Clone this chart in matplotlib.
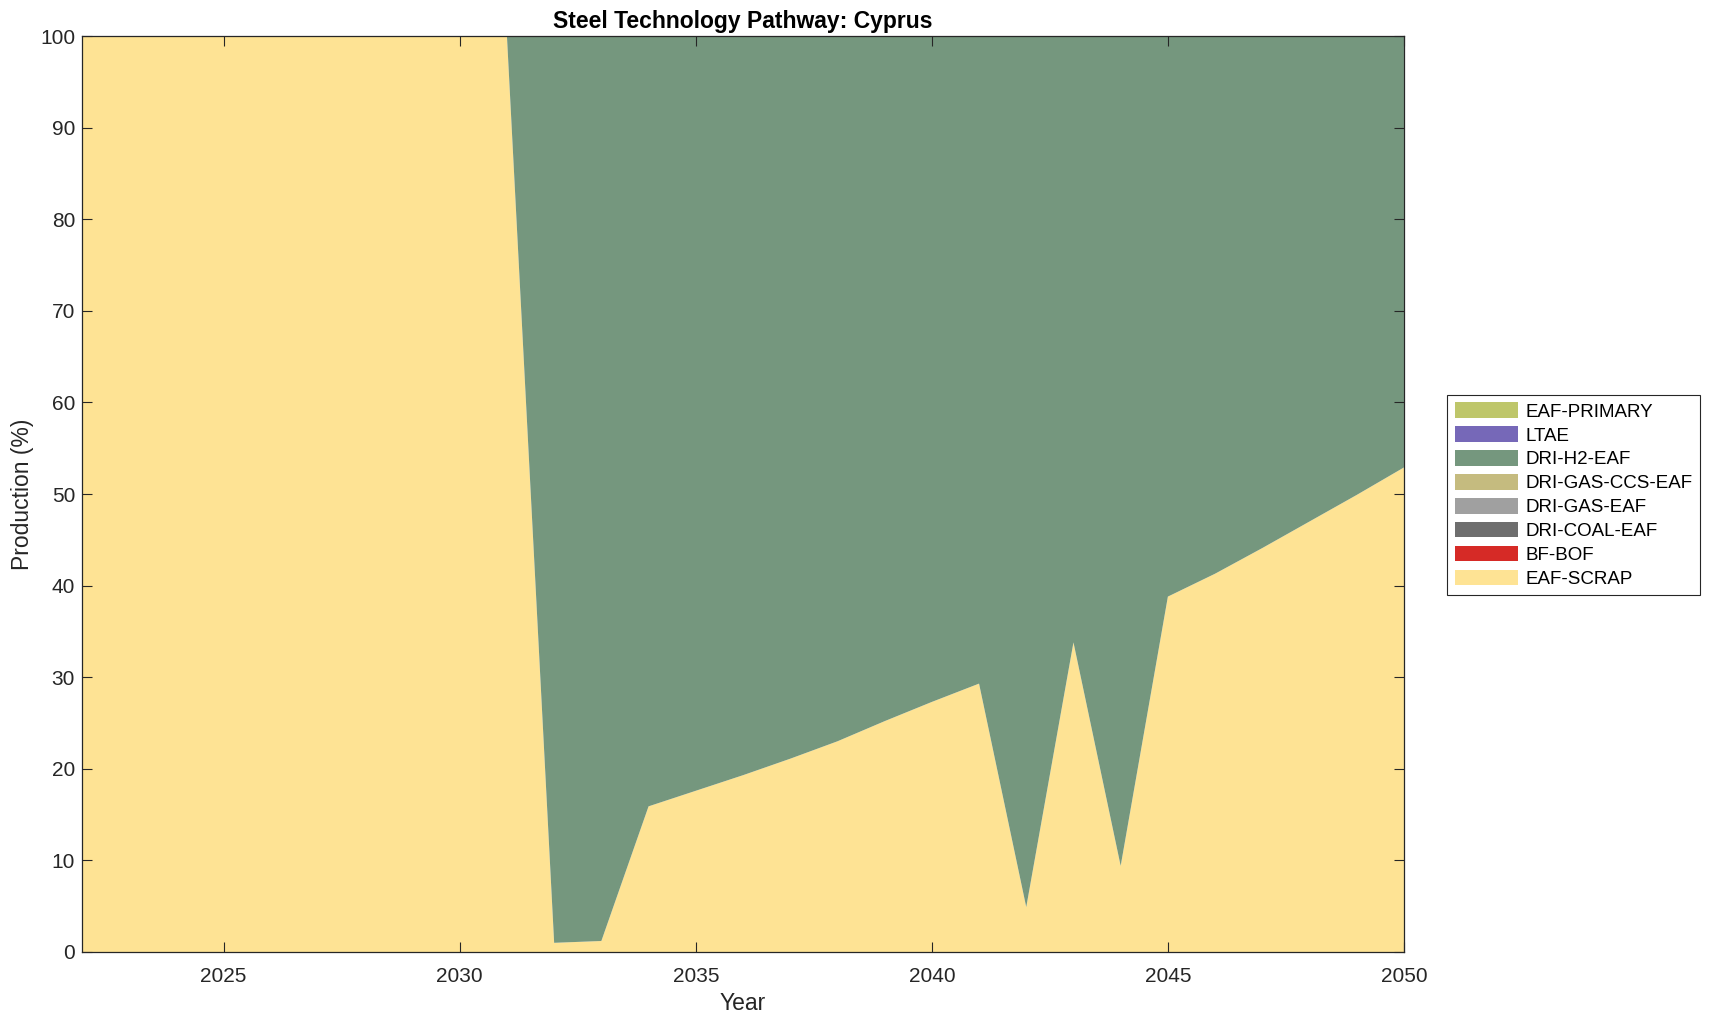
import matplotlib
matplotlib.use("Agg")
import matplotlib.pyplot as plt
from matplotlib.patches import Patch
import numpy as np

plt.rcParams['font.family'] = ['Liberation Sans', 'DejaVu Sans']

years = list(range(2022, 2051))
eaf_scrap = [100, 100, 100, 100, 100, 100, 100, 100, 100, 100,
             1.0, 1.2, 15.9, 17.6, 19.3, 21.1, 23.0, 25.2, 27.3, 29.3,
             4.9, 33.8, 9.4, 38.8, 41.3, 44.1, 47.0, 49.9, 52.9]
bf_bof = [0] * len(years)
dri_coal = [0] * len(years)
dri_gas = [0] * len(years)
dri_gas_ccs = [0] * len(years)
dri_h2 = [100 - v for v in eaf_scrap]
ltae = [0] * len(years)
eaf_primary = [0] * len(years)

labels = ['EAF-SCRAP', 'BF-BOF', 'DRI-COAL-EAF', 'DRI-GAS-EAF',
          'DRI-GAS-CCS-EAF', 'DRI-H2-EAF', 'LTAE', 'EAF-PRIMARY']
colors = ['#FEE394', '#D62A26', '#6E6E6E', '#A0A0A0',
          '#C5BB7F', '#75977E', '#7668B8', '#BEC66A']
series = [eaf_scrap, bf_bof, dri_coal, dri_gas, dri_gas_ccs, dri_h2, ltae, eaf_primary]

txt = '#262626'
fig = plt.figure(figsize=(17.09, 10.21), dpi=100)
ax = fig.add_axes([0.048, 0.0676, 0.7735, 0.8971])
ax.stackplot(years, *series, colors=colors, linewidth=0)

ax.set_xlim(2022, 2050)
ax.set_ylim(0, 100)
ax.set_xticks([2025, 2030, 2035, 2040, 2045, 2050])
ax.set_yticks(range(0, 101, 10))
ax.tick_params(direction='in', top=True, right=True, labelsize=15, length=7, width=0.8,
               pad=5, colors=txt, labelcolor=txt)
ax.tick_params(axis='x', pad=11)
for s in ax.spines.values():
    s.set_linewidth(0.9)
    s.set_color(txt)
ax.set_xlabel('Year', fontsize=16.5, labelpad=4, color=txt)
ax.set_ylabel('Production (%)', fontsize=16.5, labelpad=4, color=txt)
ax.set_title('Steel Technology Pathway: Cyprus', fontsize=16.5, fontweight='bold', pad=6, color='black')

handles = [Patch(facecolor=c, edgecolor='none', label=l) for c, l in zip(colors, labels)]
leg = fig.legend(handles=handles[::-1], loc='upper left', bbox_to_anchor=(1447/1709, 1 - 395/1021),
                 fontsize=13.5, frameon=True, fancybox=False, framealpha=1,
                 handlelength=3.4, handleheight=0.9, borderpad=0.4, labelspacing=0.3,
                 handletextpad=0.4, borderaxespad=0)
leg.get_frame().set_edgecolor(txt)
leg.get_frame().set_linewidth(0.8)
for t in leg.get_texts():
    t.set_color('black')

fig.savefig('out.png', dpi=100)
